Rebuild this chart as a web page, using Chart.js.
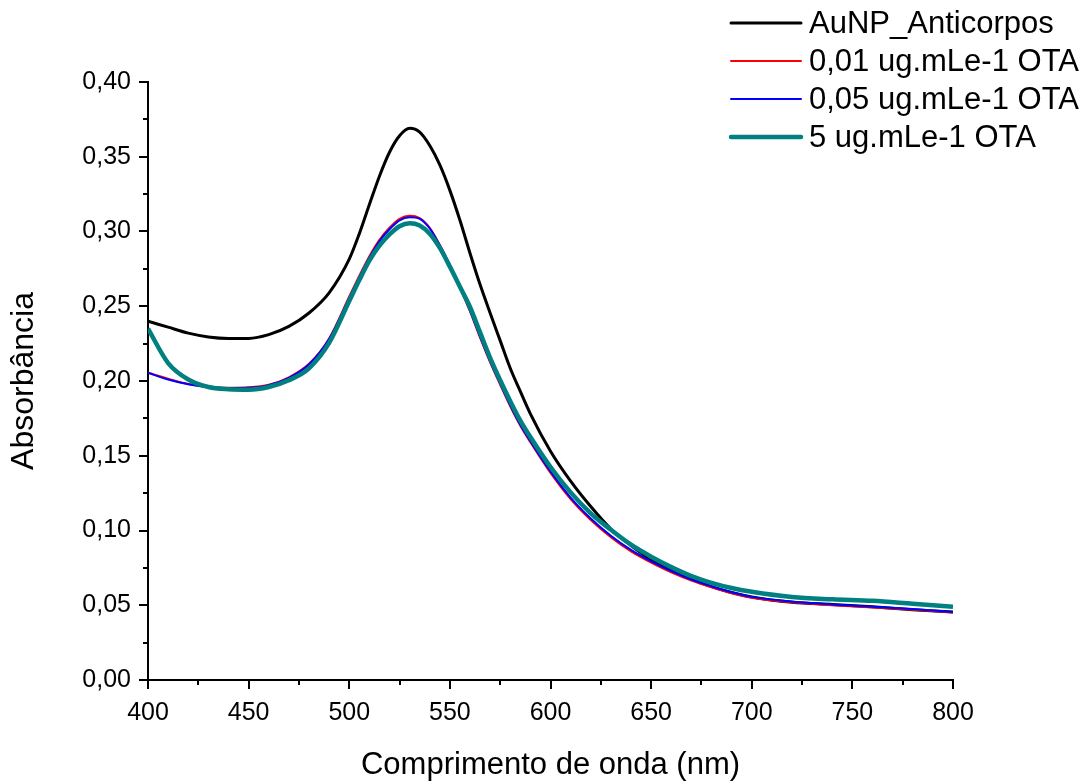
<!DOCTYPE html>
<html>
<head>
<meta charset="utf-8">
<script src="https://cdn.jsdelivr.net/npm/chart.js@4.4.1/dist/chart.umd.min.js"></script>
<style>
  html, body { margin: 0; padding: 0; background: #fff; }
  #wrap { width: 1089px; height: 781px; }
</style>
</head>
<body>
<div id="wrap"><canvas id="spectra"></canvas></div>
<script>
// comprimento de onda (nm)
const wavelengths = [400, 410, 420, 430, 440, 450, 460, 470, 480, 490, 500, 505, 510, 515, 520, 525, 530, 535, 540, 545,
  550, 555, 560, 565, 570, 575, 580, 585, 590, 600, 610, 620, 630, 640, 650, 660, 670, 680, 690, 700,
  720, 740, 760, 780, 800];

const absAnticorpos = [0.240, 0.236, 0.232, 0.2295, 0.2285, 0.2285, 0.231, 0.2365, 0.2455, 0.259, 0.2815, 0.2985, 0.318, 0.337, 0.353, 0.364, 0.369, 0.3665, 0.3575, 0.3445,
  0.3275, 0.3075, 0.2855, 0.2645, 0.2455, 0.227, 0.2085, 0.193, 0.178, 0.153, 0.133, 0.116, 0.101, 0.090, 0.0805, 0.0735, 0.0675, 0.0625, 0.0585, 0.0555,
  0.052, 0.0505, 0.049, 0.047, 0.0455];

const absOta001 = [0.2055, 0.2015, 0.198, 0.196, 0.1955, 0.1958, 0.1975, 0.2025, 0.2115, 0.2285, 0.2565, 0.2705, 0.2835, 0.2945, 0.3025, 0.3085, 0.3105, 0.309, 0.3025, 0.291,
  0.2775, 0.2625, 0.2465, 0.229, 0.2125, 0.1975, 0.183, 0.170, 0.159, 0.1385, 0.121, 0.107, 0.0955, 0.086, 0.0785, 0.072, 0.0665, 0.062, 0.058, 0.055,
  0.052, 0.050, 0.0485, 0.047, 0.0452];

const absOta005 = [0.2055, 0.201, 0.1978, 0.1958, 0.1953, 0.1955, 0.1972, 0.202, 0.211, 0.228, 0.2555, 0.2695, 0.2825, 0.2935, 0.3015, 0.3075, 0.3095, 0.3085, 0.302, 0.2908,
  0.2775, 0.2628, 0.247, 0.2297, 0.2132, 0.1983, 0.1838, 0.1708, 0.1598, 0.1395, 0.122, 0.108, 0.0965, 0.087, 0.0793, 0.0728, 0.0672, 0.0627, 0.0587, 0.0556,
  0.0525, 0.0505, 0.049, 0.0475, 0.0455];

const absOta5 = [0.235, 0.212, 0.201, 0.196, 0.1945, 0.1942, 0.196, 0.2005, 0.2085, 0.2255, 0.2535, 0.2675, 0.2805, 0.2905, 0.298, 0.3035, 0.3055, 0.304, 0.2985, 0.289,
  0.2765, 0.263, 0.2495, 0.2325, 0.2155, 0.2005, 0.1865, 0.1735, 0.1625, 0.1425, 0.1255, 0.1115, 0.1005, 0.0905, 0.0825, 0.0755, 0.0695, 0.065, 0.0615, 0.059,
  0.0555, 0.054, 0.053, 0.051, 0.049];

const seriesLabels = ['AuNP_Anticorpos', '0,01 ug.mLe-1 OTA', '0,05 ug.mLe-1 OTA', '5 ug.mLe-1 OTA'];
const xTicks = [400, 450, 500, 550, 600, 650, 700, 750, 800];
const yTicks = [0, 0.05, 0.10, 0.15, 0.20, 0.25, 0.30, 0.35, 0.40];

const FONT = '"Liberation Sans", Arial, sans-serif';

function toPoints(values) {
  return wavelengths.map((w, i) => ({ x: w, y: values[i] }));
}

// ticks menores e maiores desenhados a partir das escalas
const axisTicks = {
  id: 'axisTicks',
  afterDraw(chart) {
    const ctx = chart.ctx;
    const xs = chart.scales.x;
    const ys = chart.scales.y;
    const area = chart.chartArea;
    ctx.save();
    ctx.strokeStyle = '#000';
    ctx.lineWidth = 2;
    ctx.beginPath();
    for (let v = xTicks[0]; v <= xTicks[xTicks.length - 1]; v += 25) {
      const px = Math.round(xs.getPixelForValue(v));
      const len = xTicks.includes(v) ? 9 : 5;
      ctx.moveTo(px, area.bottom);
      ctx.lineTo(px, area.bottom + len);
    }
    for (let i = 0; i <= 16; i++) {
      const v = i * 0.025;
      const py = Math.round(ys.getPixelForValue(v));
      const len = i % 2 === 0 ? 9 : 5;
      ctx.moveTo(area.left, py);
      ctx.lineTo(area.left - len, py);
    }
    ctx.stroke();
    ctx.restore();
  }
};

// legenda no canto superior direito
const cornerLegend = {
  id: 'cornerLegend',
  afterDraw(chart) {
    const ctx = chart.ctx;
    ctx.save();
    ctx.font = '31px ' + FONT;
    ctx.textBaseline = 'middle';
    ctx.fillStyle = '#000';
    chart.data.datasets.forEach((ds, i) => {
      const y = 23 + i * 38;
      ctx.strokeStyle = ds.borderColor;
      ctx.lineWidth = ds.borderWidth;
      ctx.lineCap = 'round';
      ctx.beginPath();
      ctx.moveTo(731, y);
      ctx.lineTo(801, y);
      ctx.stroke();
      ctx.fillText(ds.label, 809, y + 1);
    });
    ctx.restore();
  }
};

const ctx = document.getElementById('spectra').getContext('2d');
new Chart(ctx, {
  type: 'line',
  data: {
    datasets: [
      { label: seriesLabels[0], data: toPoints(absAnticorpos), borderColor: '#000000', borderWidth: 3, order: 3 },
      { label: seriesLabels[1], data: toPoints(absOta001), borderColor: '#ff0000', borderWidth: 2, order: 2 },
      { label: seriesLabels[2], data: toPoints(absOta005), borderColor: '#0000ff', borderWidth: 2, order: 1 },
      { label: seriesLabels[3], data: toPoints(absOta5), borderColor: '#008080', borderWidth: 4.5, order: 0 }
    ]
  },
  options: {
    responsive: true,
    maintainAspectRatio: false,
    animation: false,
    devicePixelRatio: 1,
    elements: {
      point: { radius: 0 },
      line: { cubicInterpolationMode: 'monotone', fill: false }
    },
    layout: {
      padding: { left: 0, top: 82, right: 136, bottom: 0 }
    },
    plugins: {
      legend: { display: false },
      tooltip: { enabled: false }
    },
    scales: {
      x: {
        type: 'linear',
        min: 400,
        max: 800,
        afterFit(scale) { scale.height = 101; },
        afterBuildTicks(scale) { scale.ticks = xTicks.map(v => ({ value: v })); },
        grid: { display: true, drawOnChartArea: false, drawTicks: false },
        border: { display: true, color: '#000', width: 2 },
        ticks: {
          color: '#000',
          padding: 18,
          maxRotation: 0,
          font: { family: FONT, size: 25 }
        },
        title: {
          display: true,
          text: 'Comprimento de onda (nm)',
          color: '#000',
          font: { family: FONT, size: 31 },
          padding: { top: 0, bottom: -3 }
        }
      },
      y: {
        min: 0,
        max: 0.4,
        afterFit(scale) { scale.width = 148; },
        afterBuildTicks(scale) { scale.ticks = yTicks.map(v => ({ value: v })); },
        grid: { display: true, drawOnChartArea: false, drawTicks: false },
        border: { display: true, color: '#000', width: 2 },
        ticks: {
          color: '#000',
          padding: 17,
          font: { family: FONT, size: 25 },
          callback: function(value) {
            return value.toFixed(2).replace('.', ',');
          }
        },
        title: {
          display: true,
          text: 'Absorbância',
          color: '#000',
          font: { family: FONT, size: 32 },
          padding: { top: 5, bottom: 8 }
        }
      }
    }
  },
  plugins: [axisTicks, cornerLegend]
});
</script>
</body>
</html>
